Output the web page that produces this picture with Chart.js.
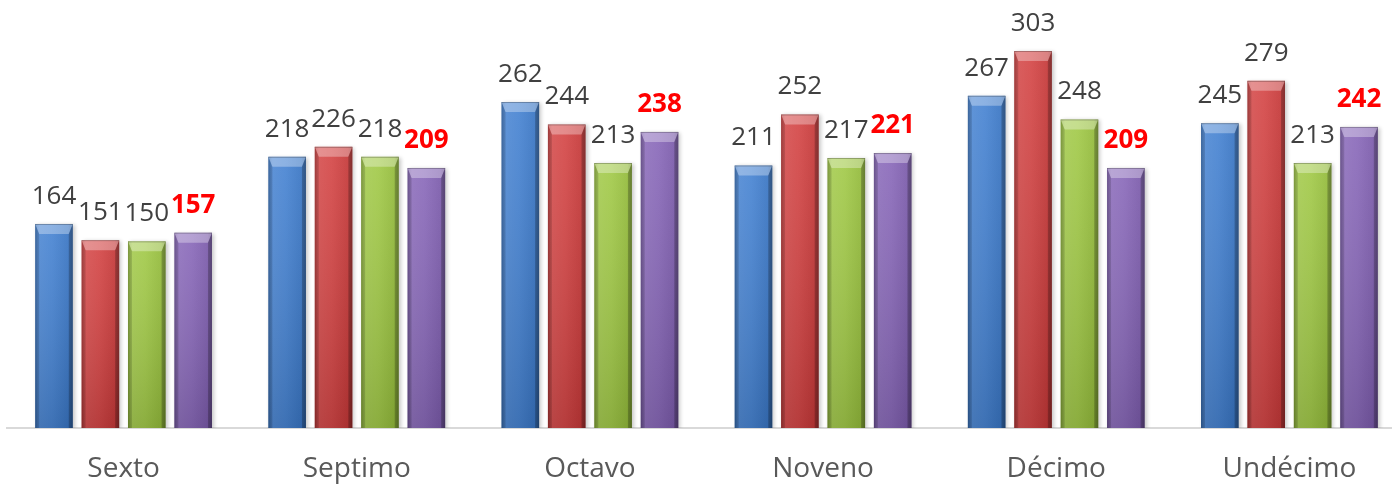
<!DOCTYPE html>
<html>
<head>
<meta charset="utf-8">
<script src="https://cdn.jsdelivr.net/npm/chart.js"></script>
<style>
  html, body { margin: 0; padding: 0; background: #fff; overflow: hidden; }
  #wrap { width: 1407px; height: 485px; }
</style>
</head>
<body>
<div id="wrap"><canvas id="grados" width="1407" height="485"></canvas></div>
<script>
// categorías (grados)
const grados = ['Sexto', 'Septimo', 'Octavo', 'Noveno', 'Décimo', 'Undécimo'];

// valores de cada serie
const serieAzul    = [164, 218, 262, 211, 267, 245];
const serieRoja    = [151, 226, 244, 252, 303, 279];
const serieVerde   = [150, 218, 213, 217, 248, 213];
const serieMorada  = [157, 209, 238, 221, 209, 242];

const colores = ['#3d7dd0', '#d23c3c', '#9dc73f', '#8361b6'];

// sombreado tipo bisel sobre cada barra
const biselPlugin = {
    id: 'bisel',
    beforeDatasetDraw(chart) {
        const ctx = chart.ctx;
        ctx.save();
        ctx.shadowColor = 'rgba(0,0,0,0.22)';
        ctx.shadowBlur = 4;
        ctx.shadowOffsetX = 2;
        ctx.shadowOffsetY = 1;
    },
    afterDatasetDraw(chart, args) {
        const ctx = chart.ctx;
        ctx.restore();
        const meta = args.meta;
        meta.data.forEach(bar => {
            const p = bar.getProps(['x', 'y', 'width', 'base'], true);
            const l = p.x - p.width / 2, r = p.x + p.width / 2;
            const t = p.y, b = p.base;
            const bv = 4, bt = 10;
            ctx.save();
            // cara: degradado horizontal
            let g = ctx.createLinearGradient(l, 0, r, 0);
            g.addColorStop(0, 'rgba(0,0,0,0.18)');
            g.addColorStop(0.12, 'rgba(255,255,255,0.10)');
            g.addColorStop(0.45, 'rgba(255,255,255,0.06)');
            g.addColorStop(0.88, 'rgba(0,0,0,0.06)');
            g.addColorStop(1, 'rgba(0,0,0,0.25)');
            ctx.fillStyle = g;
            ctx.fillRect(l, t, r - l, b - t);
            // oscurecer hacia la base
            g = ctx.createLinearGradient(0, t, 0, b);
            g.addColorStop(0, 'rgba(255,255,255,0.08)');
            g.addColorStop(1, 'rgba(0,0,0,0.14)');
            ctx.fillStyle = g;
            ctx.fillRect(l, t, r - l, b - t);
            // bisel superior
            ctx.beginPath();
            ctx.moveTo(l, t);
            ctx.lineTo(r, t);
            ctx.lineTo(r - bv, t + bt);
            ctx.lineTo(l + bv, t + bt);
            ctx.closePath();
            ctx.fillStyle = 'rgba(255,255,255,0.32)';
            ctx.fill();
            // bordes laterales
            ctx.fillStyle = 'rgba(0,0,0,0.12)';
            ctx.beginPath();
            ctx.moveTo(l, t); ctx.lineTo(l + bv, t + bt); ctx.lineTo(l + bv, b); ctx.lineTo(l, b);
            ctx.closePath(); ctx.fill();
            ctx.fillStyle = 'rgba(0,0,0,0.2)';
            ctx.beginPath();
            ctx.moveTo(r, t); ctx.lineTo(r - bv, t + bt); ctx.lineTo(r - bv, b); ctx.lineTo(r, b);
            ctx.closePath(); ctx.fill();
            // línea superior
            ctx.strokeStyle = 'rgba(0,0,0,0.25)';
            ctx.lineWidth = 1;
            ctx.beginPath();
            ctx.moveTo(l, t + 0.5); ctx.lineTo(r, t + 0.5);
            ctx.stroke();
            ctx.restore();
        });
    }
};

// etiquetas de valor encima de las barras
const etiquetasPlugin = {
    id: 'etiquetas',
    afterDatasetsDraw(chart) {
        const ctx = chart.ctx;
        ctx.save();
        ctx.textAlign = 'center';
        ctx.textBaseline = 'alphabetic';
        chart.data.datasets.forEach((ds, i) => {
            const meta = chart.getDatasetMeta(i);
            const ultima = i === 3;
            ctx.font = (ultima ? 'bold ' : '') + '26px "Open Sans"';
            ctx.fillStyle = ultima ? '#ff0000' : '#404040';
            meta.data.forEach((bar, j) => {
                ctx.fillText(String(ds.data[j]), bar.x, bar.y - 20);
            });
        });
        ctx.restore();
    }
};

const series = [serieAzul, serieRoja, serieVerde, serieMorada];

new Chart(document.getElementById('grados'), {
    type: 'bar',
    data: {
        labels: grados,
        datasets: series.map((s, i) => ({
            data: s,
            backgroundColor: colores[i],
            borderWidth: 0,
            categoryPercentage: 0.796,
            barPercentage: 0.81
        }))
    },
    options: {
        responsive: false,
        animation: false,
        layout: { padding: { left: 7, right: 1, top: 0, bottom: 0 } },
        plugins: { legend: { display: false }, tooltip: { enabled: false } },
        scales: {
            x: {
                grid: { display: false },
                border: { display: true, color: '#d9d9d9', width: 2 },
                ticks: {
                    color: '#595959',
                    font: { family: 'Open Sans', size: 28 },
                    padding: 16
                },
                afterFit(scale) { scale.height = 57; }
            },
            y: {
                display: false,
                min: 0,
                max: 344
            }
        }
    },
    plugins: [biselPlugin, etiquetasPlugin]
});
</script>
</body>
</html>
